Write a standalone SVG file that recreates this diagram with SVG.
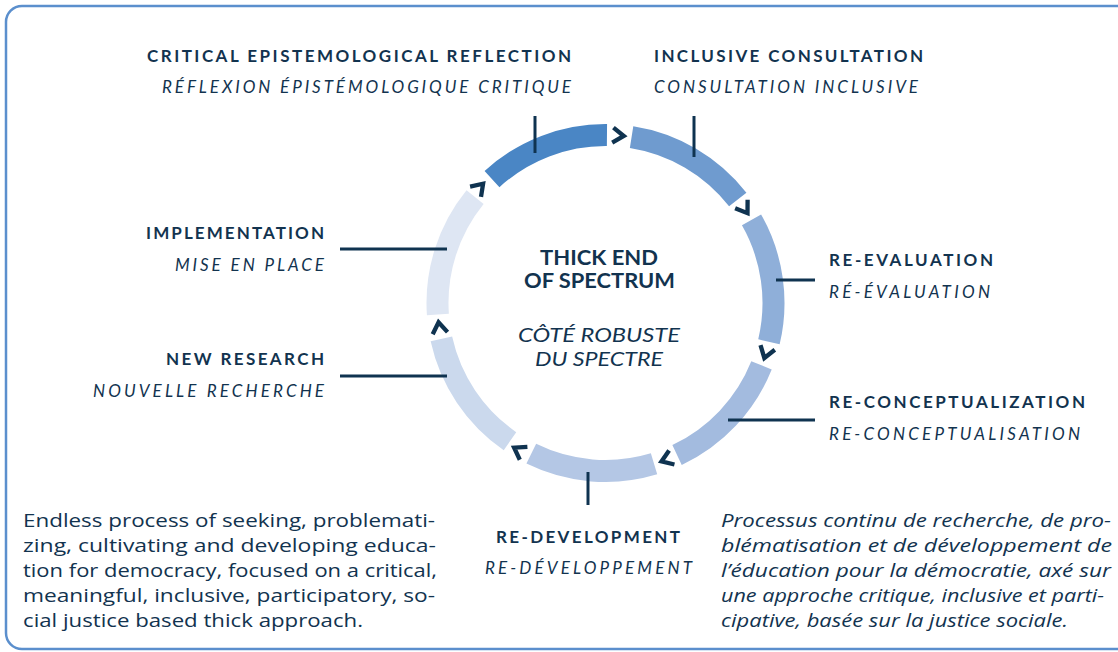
<svg xmlns="http://www.w3.org/2000/svg" width="1118" height="652" viewBox="0 0 1118 652">
<style>
.t{fill:#12334f;font-family:Lato,"Liberation Sans",sans-serif}
.b{font-weight:700;font-size:17px}
.i{font-style:italic;font-size:17px}
.c{font-weight:700;font-size:20px}
.ci{font-style:italic;font-size:20px}
.p{font-family:"Open Sans","Liberation Sans",sans-serif;font-size:18px}
.pi{font-family:"Open Sans","Liberation Sans",sans-serif;font-size:18px;font-style:italic}
.seg{fill:none;stroke-width:22}
.tick{stroke:#0f3350;stroke-width:3;fill:none}
.chev{fill:none;stroke:#0f3350;stroke-width:4.3;stroke-linejoin:miter}
</style>
<defs>
<polyline id="chv" class="chev" points="-6.5,-7.5 4.5,0 -6.5,7.5"/>
</defs>
<rect x="6" y="6" width="1140" height="643" rx="16" fill="#fff" stroke="#5b8fcd" stroke-width="2.5"/>

<g id="ring">
<path class="seg" stroke="#4a86c5" d="M492.00,179.14 A168,168 0 0 1 606.97,135.01"/>
<path class="seg" stroke="#6f9bcf" d="M631.58,137.04 A168,168 0 0 1 737.76,199.42"/>
<path class="seg" stroke="#8fafd9" d="M751.52,219.92 A168,168 0 0 1 768.95,341.82"/>
<path class="seg" stroke="#a3bbdf" d="M761.50,365.36 A168,168 0 0 1 677.05,455.00"/>
<path class="seg" stroke="#b4c7e5" d="M654.03,463.84 A168,168 0 0 1 531.30,453.73"/>
<path class="seg" stroke="#cbd9ed" d="M509.99,441.21 A168,168 0 0 1 441.39,338.96"/>
<path class="seg" stroke="#dee6f3" d="M437.89,314.51 A168,168 0 0 1 475.06,197.13"/>
</g>

<g id="connectors">
<use href="#chv" transform="translate(619.3,135.6) rotate(4.71)"/>
<use href="#chv" transform="translate(745.0,209.4) rotate(56.14)"/>
<use href="#chv" transform="translate(765.7,353.7) rotate(107.57)"/>
<use href="#chv" transform="translate(665.7,459.8) rotate(159)"/>
<use href="#chv" transform="translate(518,450) rotate(210.43)"/>
<use href="#chv" transform="translate(439.2,326.8) rotate(261.86)"/>
<use href="#chv" transform="translate(480,187) rotate(313.29)"/>
<line class="tick" x1="535" y1="116" x2="535" y2="153"/>
<line class="tick" x1="694" y1="116" x2="694" y2="157"/>
<line class="tick" x1="776" y1="280" x2="815" y2="280"/>
<line class="tick" x1="728" y1="420" x2="815" y2="420"/>
<line class="tick" x1="588" y1="472" x2="588" y2="505"/>
<line class="tick" x1="340" y1="376" x2="447" y2="376"/>
<line class="tick" x1="340" y1="249" x2="447" y2="249"/>
</g>

<g id="center">
<text class="t c" x="540" y="265" textLength="118" lengthAdjust="spacingAndGlyphs">THICK END</text>
<text class="t c" x="524" y="288" textLength="151" lengthAdjust="spacingAndGlyphs">OF SPECTRUM</text>
<text class="t ci" x="518" y="342" textLength="162" lengthAdjust="spacingAndGlyphs">CÔTÉ ROBUSTE</text>
<text class="t ci" x="535" y="366" textLength="128" lengthAdjust="spacingAndGlyphs">DU SPECTRE</text>
</g>

<g id="critical">
<text class="t b" x="147" y="62" textLength="424" lengthAdjust="spacing">CRITICAL EPISTEMOLOGICAL REFLECTION</text>
<text class="t i" x="162" y="93" textLength="409" lengthAdjust="spacing">RÉFLEXION ÉPISTÉMOLOGIQUE CRITIQUE</text>
</g>
<g id="inclusive">
<text class="t b" x="654" y="62" textLength="269" lengthAdjust="spacing">INCLUSIVE CONSULTATION</text>
<text class="t i" x="654" y="93" textLength="264" lengthAdjust="spacing">CONSULTATION INCLUSIVE</text>
</g>
<g id="reevaluation">
<text class="t b" x="829" y="266" textLength="164" lengthAdjust="spacing">RE-EVALUATION</text>
<text class="t i" x="829" y="298" textLength="161" lengthAdjust="spacing">RÉ-ÉVALUATION</text>
</g>
<g id="reconceptualization">
<text class="t b" x="829" y="408" textLength="256" lengthAdjust="spacing">RE-CONCEPTUALIZATION</text>
<text class="t i" x="829" y="440" textLength="251" lengthAdjust="spacing">RE-CONCEPTUALISATION</text>
</g>
<g id="redevelopment">
<text class="t b" x="496" y="543" textLength="184" lengthAdjust="spacing">RE-DEVELOPMENT</text>
<text class="t i" x="485" y="574" textLength="207" lengthAdjust="spacing">RE-DÉVELOPPEMENT</text>
</g>
<g id="newresearch">
<text class="t b" x="166" y="365" textLength="158" lengthAdjust="spacing">NEW RESEARCH</text>
<text class="t i" x="93" y="397" textLength="231" lengthAdjust="spacing">NOUVELLE RECHERCHE</text>
</g>
<g id="implementation">
<text class="t b" x="146" y="239" textLength="178" lengthAdjust="spacing">IMPLEMENTATION</text>
<text class="t i" x="175" y="271" textLength="149" lengthAdjust="spacing">MISE EN PLACE</text>
</g>

<g id="desc-en">
<text class="t p" x="23" y="527" textLength="412" lengthAdjust="spacingAndGlyphs">Endless process of seeking, problemati-</text>
<text class="t p" x="23" y="552" textLength="413" lengthAdjust="spacingAndGlyphs">zing, cultivating and developing educa-</text>
<text class="t p" x="23" y="577" textLength="414" lengthAdjust="spacingAndGlyphs">tion for democracy, focused on a critical,</text>
<text class="t p" x="23" y="602" textLength="412" lengthAdjust="spacingAndGlyphs">meaningful, inclusive, participatory, so-</text>
<text class="t p" x="23" y="627" textLength="340" lengthAdjust="spacingAndGlyphs">cial justice based thick approach.</text>
</g>
<g id="desc-fr">
<text class="t pi" x="721" y="527" textLength="390" lengthAdjust="spacingAndGlyphs">Processus continu de recherche, de pro-</text>
<text class="t pi" x="721" y="552" textLength="391" lengthAdjust="spacingAndGlyphs">blématisation et de développement de</text>
<text class="t pi" x="721" y="577" textLength="390" lengthAdjust="spacingAndGlyphs">l’éducation pour la démocratie, axé sur</text>
<text class="t pi" x="721" y="602" textLength="383" lengthAdjust="spacingAndGlyphs">une approche critique, inclusive et parti-</text>
<text class="t pi" x="721" y="627" textLength="347" lengthAdjust="spacingAndGlyphs">cipative, basée sur la justice sociale.</text>
</g>
</svg>
